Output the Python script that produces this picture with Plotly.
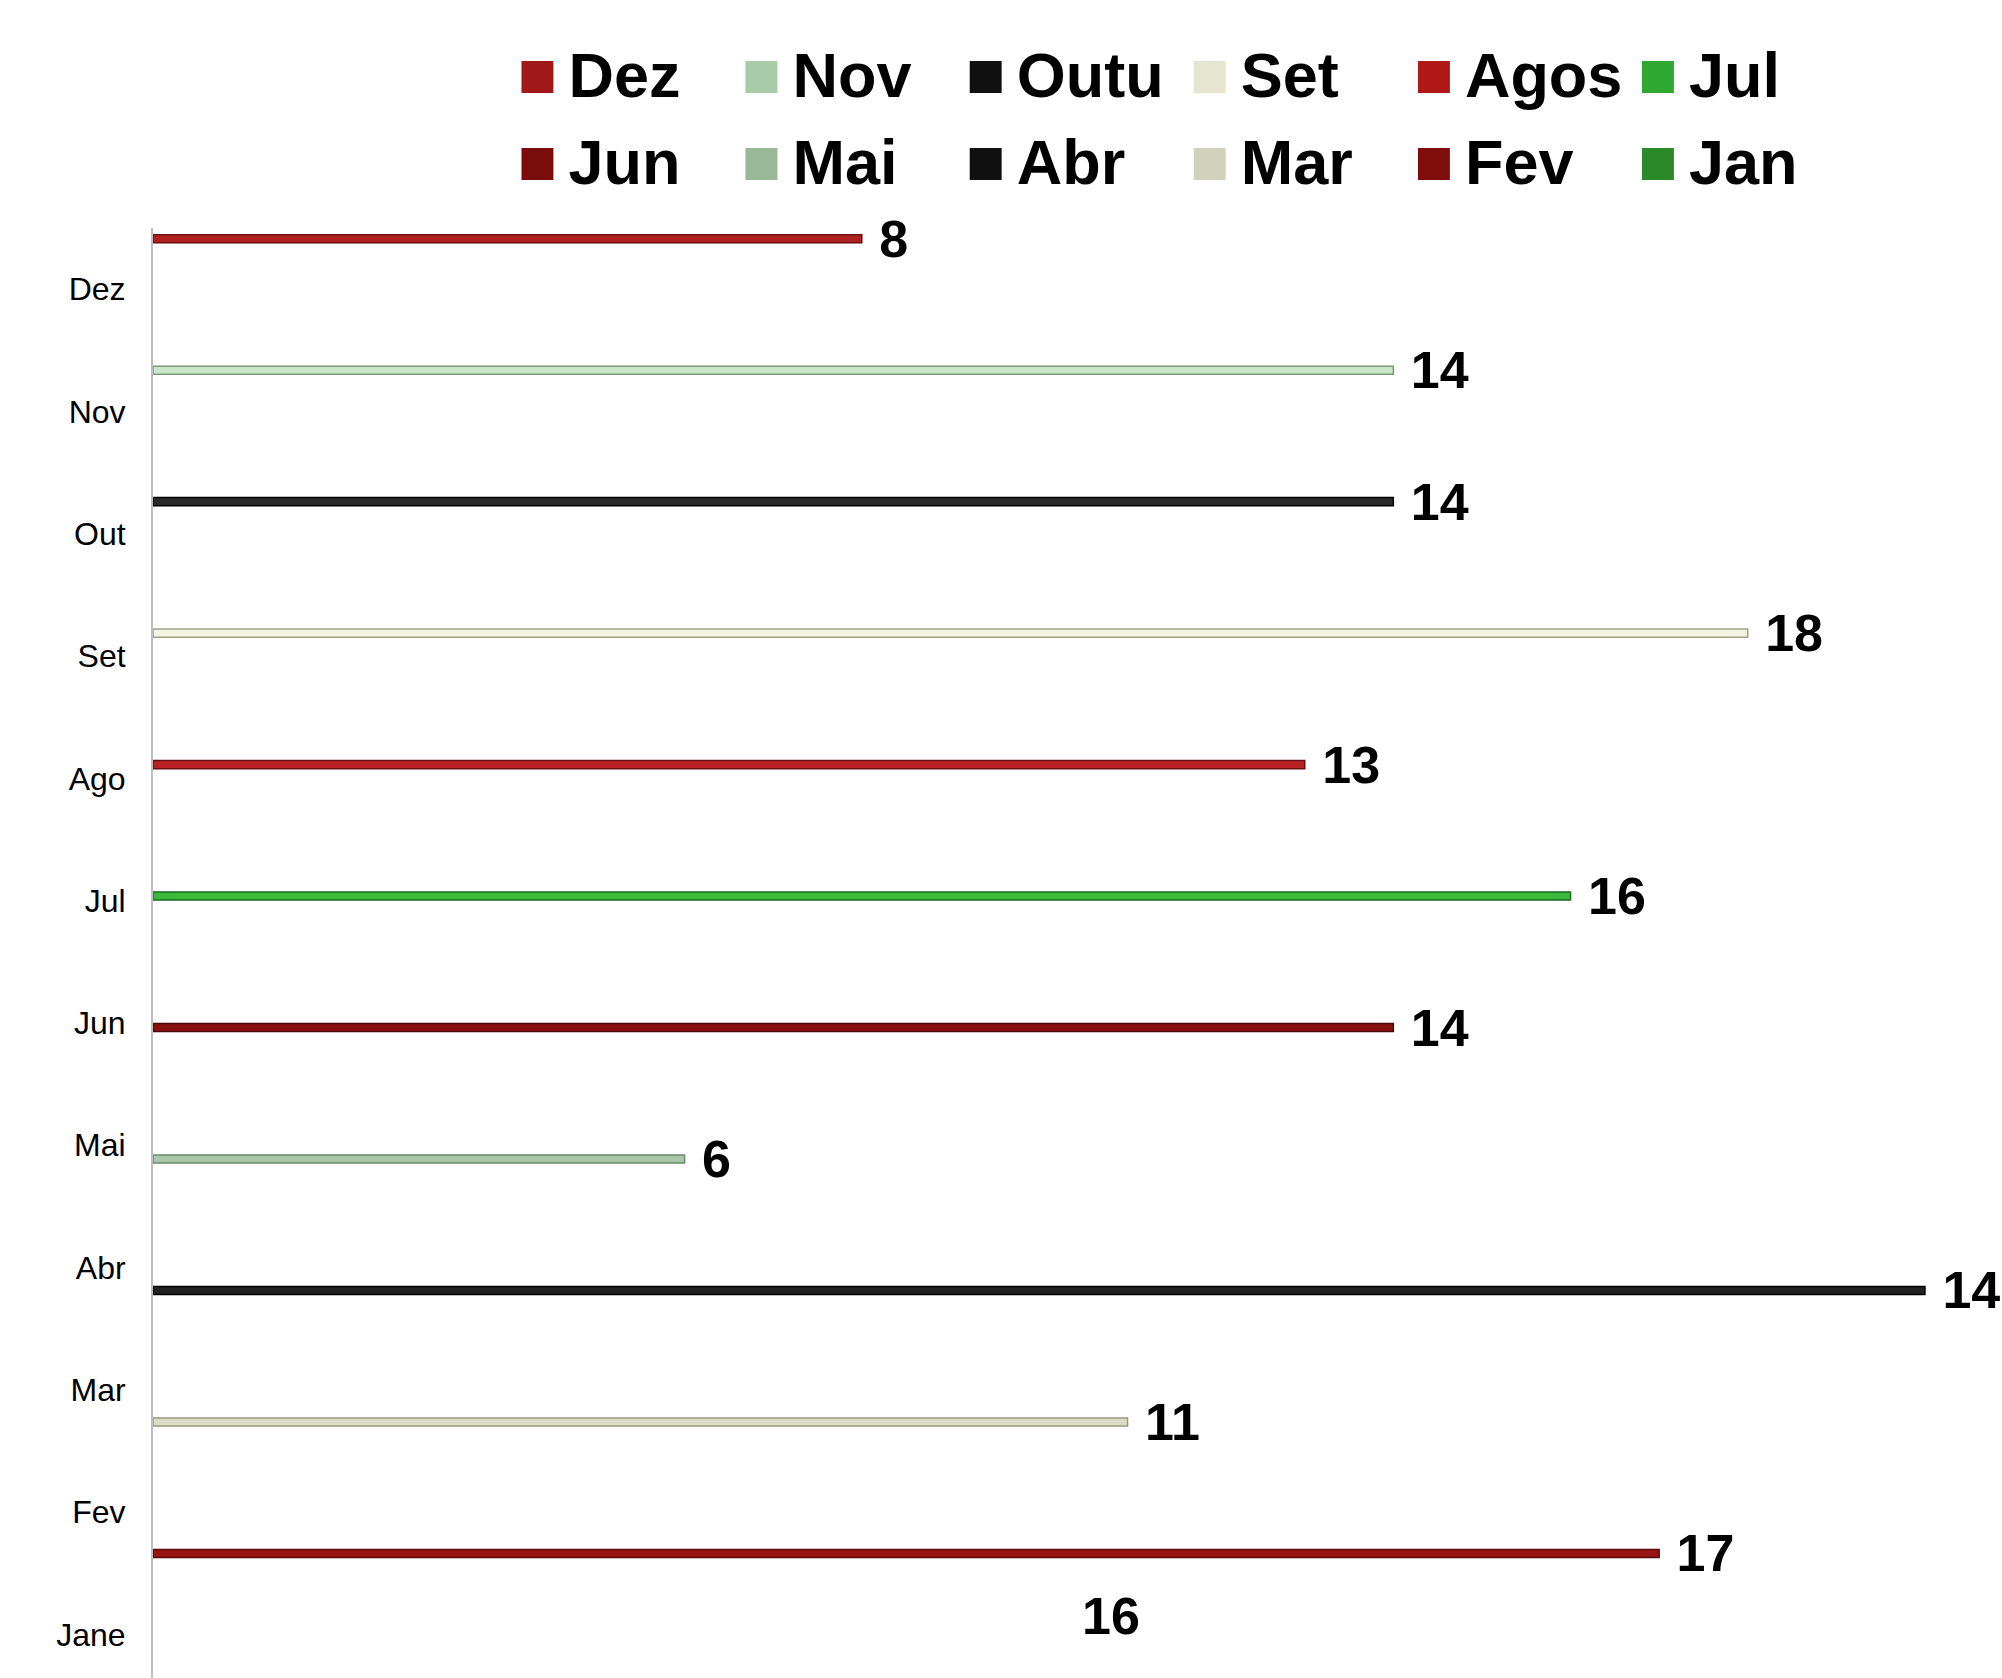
import plotly.graph_objects as go

categories = ["Dez", "Nov", "Out", "Set", "Ago", "Jul", "Jun", "Mai", "Abr", "Mar", "Fev", "Jane"]
series_names = ["Dez", "Nov", "Outu", "Set", "Agos", "Jul", "Jun", "Mai", "Abr", "Mar", "Fev", "Jan"]
values = [8, 14, 14, 18, 13, 16, 14, 6, 20, 11, 17, 16]
value_labels = ["8", "14", "14", "18", "13", "16", "14", "6", "14", "11", "17", "16"]

bar_fill = ["#b02020", "#c8e6c8", "#2a2a2a", "#f4f4e0", "#b82222", "#3cb83c",
            "#8a1010", "#a8c8a8", "#222222", "#dcdcc4", "#9a1515", "#2a9a2a"]
bar_edge = ["#6a1010", "#7a9a7a", "#000000", "#a0a088", "#6a1010", "#1e6e1e",
            "#4a0808", "#6a8a6a", "#000000", "#9a9a80", "#5a0a0a", "#145014"]
legend_col = ["#a01818", "#a8cca8", "#111111", "#e6e5cf", "#b01818", "#2ea82e",
              "#7a0c0c", "#98b898", "#111111", "#d2d2ba", "#800c0c", "#2a8a2a"]

FONT = "Liberation Sans, Arial, sans-serif"

fig = go.Figure()
n = len(series_names)
for i in range(n):
    lab = value_labels[i] if i < n - 1 else ""
    fig.add_trace(go.Bar(
        name=series_names[i],
        y=[categories[i]], x=[values[i]],
        orientation="h",
        offsetgroup=str(i), alignmentgroup="all",
        marker=dict(color=bar_fill[i], line=dict(color=bar_edge[i], width=1.5)),
        text=["\u00a0" + lab if lab else ""],
        textposition="outside",
        textfont=dict(family=FONT, size=52, color="#000000", weight="bold"),
        constraintext="none",
        cliponaxis=False,
        showlegend=False,
        hoverinfo="skip",
    ))

# legend entries (two rows of six)
for i in range(n):
    nm = ('<span style="color:%s;font-size:66px">\u25a0</span>'
          '<span style="font-size:40px">\u00a0</span>%s') % (legend_col[i], series_names[i])
    fig.add_trace(go.Scatter(
        x=[None], y=[None], mode="lines",
        line=dict(color="rgba(0,0,0,0)", width=0),
        name=nm, legend="legend" if i < 6 else "legend2",
        showlegend=True, hoverinfo="skip",
    ))

# Jan label (its bar falls below the visible area)
fig.add_annotation(x=10.81, y=categories[-1], yshift=18, text=value_labels[-1],
                   showarrow=False, xanchor="center", yanchor="middle",
                   font=dict(family=FONT, size=52, color="#000000", weight="bold"))

legend_font = dict(family=FONT, size=63, color="#000000", weight="bold")
fig.update_layout(
    width=2002, height=1678,
    margin=dict(l=153, r=0, t=228, b=0),
    paper_bgcolor="white", plot_bgcolor="white",
    barmode="group", bargap=0.1, bargroupgap=0.12,
    font=dict(family=FONT, color="#000000"),
    legend=dict(
        orientation="h", x=0.1755, y=1.107, xanchor="left", yanchor="middle",
        entrywidth=0.1212, entrywidthmode="fraction",
        font=legend_font, bgcolor="rgba(0,0,0,0)", traceorder="normal",
    ),
    legend2=dict(
        orientation="h", x=0.1755, y=1.047, xanchor="left", yanchor="middle",
        entrywidth=0.1212, entrywidthmode="fraction",
        font=legend_font, bgcolor="rgba(0,0,0,0)", traceorder="normal",
    ),
    xaxis=dict(range=[0, 20.87], showgrid=False, zeroline=False, showline=False,
               showticklabels=False, ticks=""),
    yaxis=dict(type="category", categoryorder="array", categoryarray=categories,
               range=[11.356, -0.5], showgrid=False, zeroline=False,
               showline=True, linecolor="#bfbfbf", linewidth=2,
               ticks="", ticklabelstandoff=19,
               tickfont=dict(family=FONT, size=32, color="#000000")),
)

fig.write_html("out.html")
